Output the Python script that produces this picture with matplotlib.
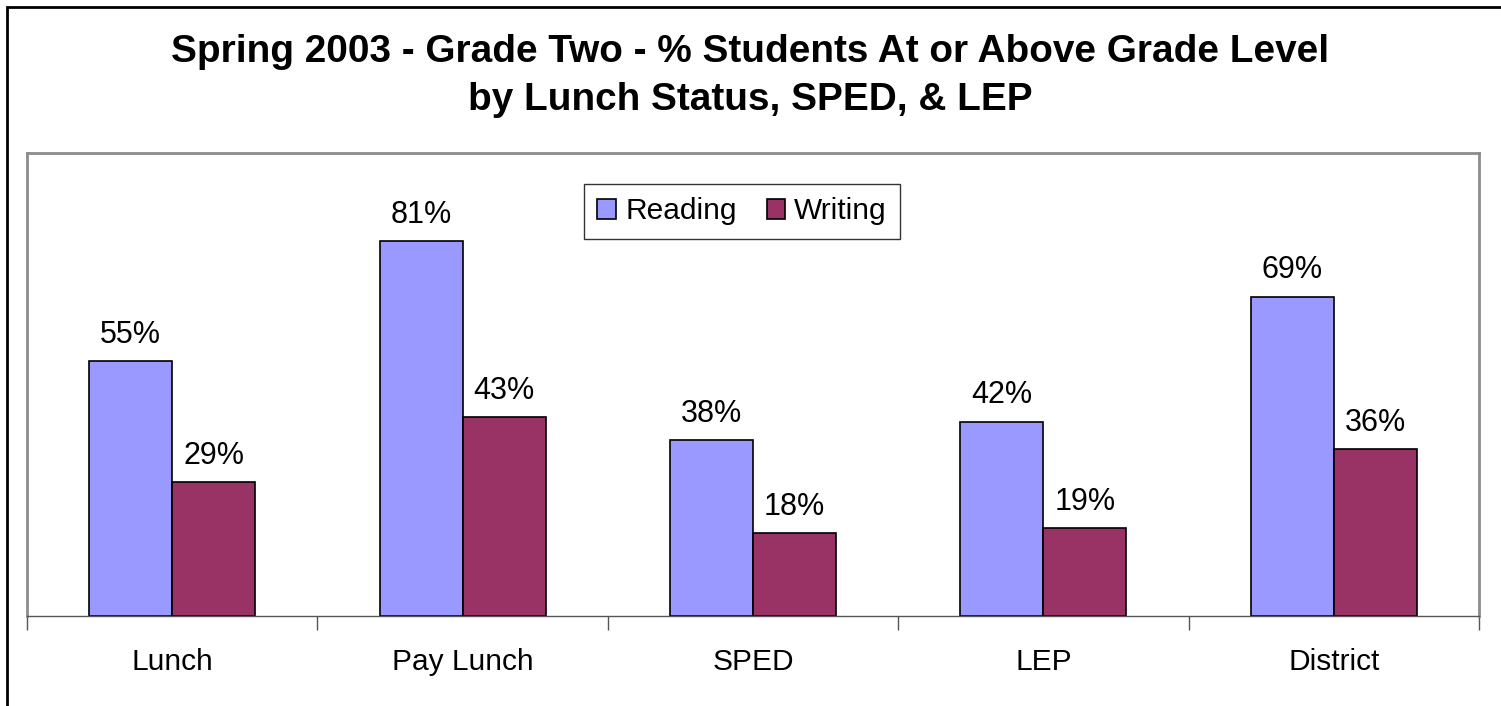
import numpy as np
import matplotlib.pyplot as plt
from matplotlib.patches import Rectangle

plt.rcParams['font.family'] = ['Liberation Sans', 'DejaVu Sans']

categories = ['Lunch', 'Pay Lunch', 'SPED', 'LEP', 'District']
reading = [55, 81, 38, 42, 69]
writing = [29, 43, 18, 19, 36]

W, H = 1501, 706
fig = plt.figure(figsize=(W / 100, H / 100), dpi=100)

# outer chart border (runs off the right and bottom edges)
fig.patches.append(Rectangle((7 / W, -0.1), 1.2, 1 - 6.5 / H + 0.1,
                             transform=fig.transFigure, fill=False,
                             edgecolor='black', linewidth=2, zorder=0))

# plot area
left, right, top, bottom = 27, 1479, 153, 616
ax = fig.add_axes([left / W, 1 - bottom / H, (right - left) / W, (bottom - top) / H])

x = np.arange(len(categories))
bw = 0.286
b1 = ax.bar(x - bw / 2, reading, bw, color='#9999FF', edgecolor='black',
            linewidth=1.2, label='Reading')
b2 = ax.bar(x + bw / 2, writing, bw, color='#993366', edgecolor='black',
            linewidth=1.2, label='Writing')

for bars, vals in ((b1, reading), (b2, writing)):
    for r, v in zip(bars, vals):
        ax.text(r.get_x() + r.get_width() / 2, v + 3.9, f'{v}%',
                ha='center', va='baseline', fontsize=22)

ax.set_xlim(-0.5, len(categories) - 0.5)
ax.set_ylim(0, 100)
ax.set_yticks([])
ax.set_xticks(np.arange(len(categories) + 1) - 0.5, minor=False)
ax.set_xticklabels([])
ax.tick_params(axis='x', length=10, width=1, color='#555555')
for i, c in enumerate(categories):
    ax.text(i, -9.9, c, ha='center', va='center', fontsize=21.5,
            transform=ax.transData)

for s in ['top', 'left', 'right']:
    ax.spines[s].set_color('#8c8c8c')
    ax.spines[s].set_linewidth(2)
ax.spines['bottom'].set_color('#555555')
ax.spines['bottom'].set_linewidth(1)

leg = ax.legend(loc='upper left', bbox_to_anchor=((584 - left) / (right - left), 1 - (184 - top) / (bottom - top)),
                ncol=2, fontsize=21.5, frameon=True, fancybox=False,
                handlelength=0.63, handleheight=0.63, handletextpad=0.3,
                columnspacing=1.0, borderpad=0.45, borderaxespad=0)
leg.get_frame().set_edgecolor('black')
leg.get_frame().set_linewidth(1)

fig.text(0.5, 1 - 52 / H, 'Spring 2003 - Grade Two - % Students At or Above Grade Level',
         ha='center', va='center', fontsize=27.9, fontweight='bold')
fig.text(0.5, 1 - 100 / H, 'by Lunch Status, SPED, & LEP',
         ha='center', va='center', fontsize=27.9, fontweight='bold')

fig.savefig('out.png', dpi=100)
